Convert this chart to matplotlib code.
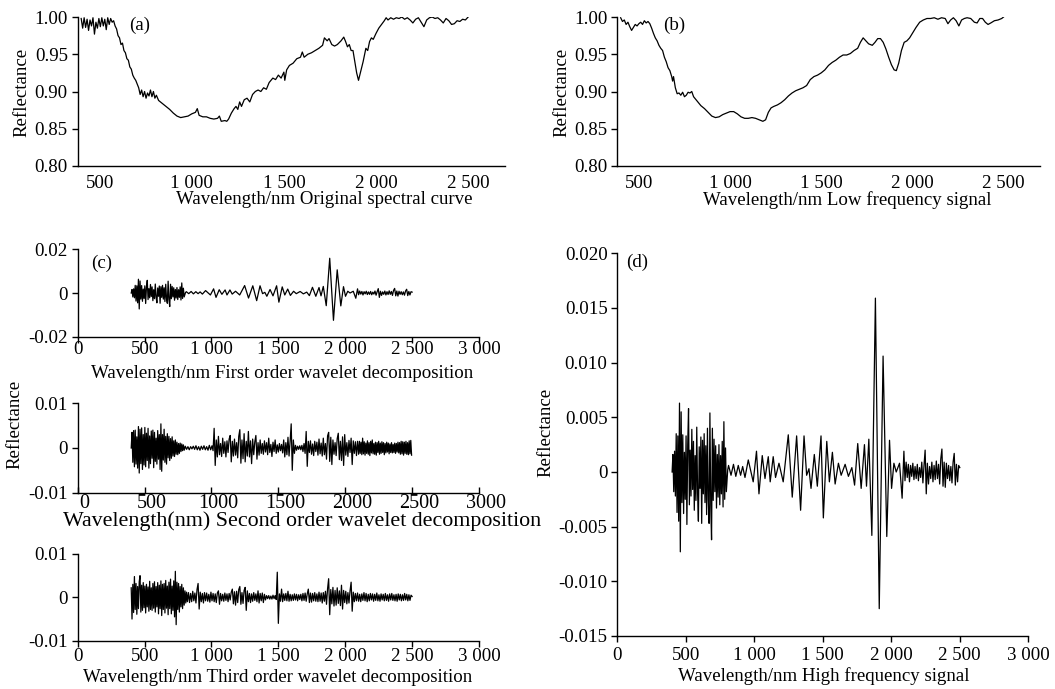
import numpy as np
import matplotlib
matplotlib.use("Agg")
import matplotlib.pyplot as plt
import matplotlib.transforms as mtransforms

plt.rcParams['font.family'] = ['Liberation Serif', 'DejaVu Serif']
plt.rcParams['font.size'] = 13.6

W, H = 1055, 689

# (a) original spectral curve: (wavelength nm, reflectance)
A_CURVE = [
    (400, 0.998), (408, 0.985), (416, 0.999), (424, 0.986), (432, 0.997), (440, 0.982),
    (448, 0.996), (456, 0.988), (464, 0.999), (472, 0.977), (480, 0.993), (488, 0.985),
    (496, 0.998), (504, 0.987), (512, 0.999), (520, 0.988), (528, 0.997), (536, 0.983),
    (544, 0.999), (552, 0.990), (560, 0.998), (568, 0.993), (576, 0.995), (584, 0.988),
    (592, 0.984), (600, 0.975), (608, 0.972), (616, 0.963), (624, 0.965), (632, 0.955),
    (640, 0.952), (648, 0.944), (656, 0.942), (664, 0.933), (672, 0.930), (680, 0.922),
    (688, 0.918), (696, 0.915), (704, 0.910), (712, 0.905), (720, 0.896), (728, 0.902),
    (736, 0.893), (744, 0.900), (752, 0.891), (760, 0.898), (768, 0.894), (776, 0.902),
    (784, 0.893), (792, 0.900), (800, 0.891), (808, 0.895), (820, 0.888), (840, 0.884),
    (860, 0.880), (880, 0.876), (900, 0.871), (920, 0.867), (940, 0.865), (960, 0.866),
    (980, 0.867), (1000, 0.870), (1020, 0.872), (1030, 0.877), (1040, 0.868), (1060, 0.866),
    (1080, 0.866), (1100, 0.864), (1120, 0.863), (1140, 0.864), (1150, 0.867), (1160, 0.860),
    (1180, 0.861), (1190, 0.860), (1200, 0.863), (1215, 0.871), (1230, 0.877), (1240, 0.880),
    (1250, 0.876), (1260, 0.886), (1270, 0.880), (1285, 0.889), (1300, 0.891), (1315, 0.886),
    (1330, 0.896), (1345, 0.900), (1360, 0.902), (1375, 0.900), (1390, 0.905), (1405, 0.903),
    (1420, 0.912), (1440, 0.918), (1455, 0.916), (1470, 0.922), (1485, 0.918), (1500, 0.926),
    (1505, 0.915), (1515, 0.929), (1530, 0.935), (1550, 0.938), (1570, 0.944), (1590, 0.946),
    (1600, 0.953), (1610, 0.946), (1630, 0.950), (1650, 0.952), (1670, 0.955), (1690, 0.958),
    (1710, 0.962), (1720, 0.972), (1735, 0.968), (1745, 0.971), (1760, 0.963), (1775, 0.961),
    (1790, 0.963), (1810, 0.968), (1825, 0.973), (1835, 0.967), (1845, 0.960), (1855, 0.963),
    (1865, 0.955), (1875, 0.955), (1885, 0.940), (1895, 0.925), (1905, 0.915), (1915, 0.925),
    (1930, 0.940), (1945, 0.958), (1955, 0.955), (1965, 0.967), (1975, 0.972), (1985, 0.970),
    (2000, 0.978), (2015, 0.985), (2030, 0.990), (2045, 0.995), (2055, 0.999), (2065, 0.996),
    (2080, 0.999), (2095, 0.997), (2110, 0.999), (2125, 0.998), (2140, 1.000), (2155, 0.997),
    (2170, 0.999), (2185, 0.996), (2200, 0.992), (2215, 0.997), (2230, 0.999), (2245, 0.993),
    (2260, 0.987), (2275, 0.996), (2290, 0.999), (2305, 1.000), (2320, 0.998), (2335, 0.999),
    (2350, 0.996), (2365, 0.992), (2380, 0.998), (2395, 0.995), (2410, 0.990), (2425, 0.991),
    (2440, 0.995), (2455, 0.994), (2470, 0.997), (2485, 0.996), (2500, 1.000),
]

# (b) low frequency signal
B_CURVE = [
    (400, 0.999), (410, 0.994), (420, 0.996), (430, 0.990), (440, 0.993), (450, 0.987),
    (460, 0.982), (470, 0.986), (480, 0.990), (490, 0.988), (500, 0.991), (510, 0.993),
    (520, 0.990), (530, 0.995), (540, 0.992), (550, 0.994), (560, 0.991), (570, 0.985),
    (580, 0.978), (590, 0.972), (600, 0.968), (610, 0.962), (620, 0.958), (630, 0.955),
    (640, 0.946), (650, 0.940), (660, 0.932), (670, 0.928), (680, 0.920), (685, 0.914),
    (690, 0.920), (700, 0.905), (710, 0.897), (720, 0.898), (730, 0.895), (740, 0.899),
    (750, 0.893), (760, 0.895), (770, 0.899), (780, 0.898), (790, 0.900), (800, 0.893),
    (820, 0.887), (840, 0.881), (860, 0.877), (880, 0.872), (900, 0.867), (920, 0.865),
    (940, 0.866), (960, 0.869), (980, 0.871), (1000, 0.873), (1020, 0.873), (1040, 0.870),
    (1060, 0.866), (1080, 0.864), (1100, 0.864), (1120, 0.865), (1140, 0.864), (1160, 0.862),
    (1180, 0.860), (1195, 0.862), (1210, 0.872), (1225, 0.878), (1240, 0.880), (1260, 0.882),
    (1280, 0.885), (1300, 0.889), (1320, 0.894), (1340, 0.898), (1360, 0.901), (1380, 0.903),
    (1400, 0.905), (1420, 0.908), (1440, 0.916), (1460, 0.920), (1480, 0.922), (1500, 0.925),
    (1520, 0.929), (1540, 0.935), (1560, 0.939), (1580, 0.942), (1600, 0.946), (1620, 0.949),
    (1640, 0.949), (1660, 0.951), (1680, 0.955), (1700, 0.958), (1715, 0.966), (1730, 0.972),
    (1745, 0.968), (1760, 0.964), (1780, 0.962), (1795, 0.966), (1810, 0.971), (1825, 0.971),
    (1840, 0.966), (1855, 0.957), (1870, 0.946), (1885, 0.936), (1900, 0.929), (1912, 0.928),
    (1925, 0.938), (1940, 0.955), (1955, 0.966), (1970, 0.968), (1985, 0.972), (2000, 0.978),
    (2020, 0.986), (2040, 0.993), (2060, 0.996), (2080, 0.998), (2100, 0.998), (2120, 0.999),
    (2140, 0.997), (2160, 0.999), (2180, 0.998), (2195, 0.991), (2210, 0.996), (2225, 0.999),
    (2240, 0.995), (2255, 0.988), (2270, 0.996), (2285, 0.998), (2300, 0.999), (2320, 0.998),
    (2340, 0.993), (2355, 0.992), (2370, 0.998), (2385, 0.998), (2400, 0.993), (2415, 0.990),
    (2430, 0.992), (2450, 0.995), (2470, 0.996), (2490, 0.998), (2500, 1.000),
]

# (d) high frequency signal, also the first order detail of (c); unit 1e-3
D_LEFT_RANGE = (400, 796)
D_LEFT = [0.0, 1.6, -1.8, 1.9, -2.2, 3.5, -3.7, 3.3, -4.5, 6.3, -7.3, 5.5, -2.8, 3.4, -3.8,
          1.8, -2.5, 3.3, -4.8, 2.5, 5.8, -3.0, 2.0, -2.2, 3.9, -1.6, 2.8, -3.5, 1.5, -2.6,
          4.1, -1.9, -4.5, 2.3, -1.5, 3.2, -4.7, 2.9, -2.0, 3.5, -2.8, 2.4, -3.9, 4.0, -2.5,
          -4.7, 5.4, -3.0, -6.2, 4.0, -2.6, 3.0, -1.8, 2.4, -3.3, 1.6, -2.3, 2.5, -3.0, 1.5,
          -2.0, 2.8, -3.2, 4.6, -2.5, 2.2, -1.8]
D_MID = [
    (806, 0.2), (812, 0.6), (830, -0.3), (848, 0.7), (865, -0.4), (883, 0.6), (900, -0.3),
    (915, 0.5), (932, -0.5), (956, 1.1), (992, -0.9), (1016, 1.9), (1034, -2.0), (1058, 1.5),
    (1078, -0.6), (1102, 1.4), (1116, -0.9), (1138, 1.4), (1155, -0.5), (1180, 0.8),
    (1211, -0.9), (1248, 3.4), (1277, -2.3), (1309, 3.3), (1338, -3.5), (1363, 3.3),
    (1382, -0.3), (1399, 0.3), (1414, -1.5), (1438, 1.6), (1460, -1.3), (1487, 3.3),
    (1504, -4.2), (1529, 2.8), (1548, -0.9), (1570, 1.8), (1590, -1.1), (1614, 0.8),
    (1634, -0.3), (1663, 0.7), (1687, -0.4), (1712, 0.4), (1732, -1.2), (1755, 2.6),
    (1780, -1.5), (1804, 2.5), (1819, -1.3), (1836, 3.0), (1858, -5.8), (1884, 15.9),
    (1912, -12.5), (1940, 10.6), (1967, -5.9), (1987, 2.9), (2002, -1.5), (2019, 0.8),
    (2036, 0.0), (2060, 0.8), (2079, -2.4), (2092, 1.9),
]
D_RIGHT_RANGE = (2100, 2500)
D_RIGHT = [-0.8, 0.9, -0.5, 0.7, -0.9, 0.6, -0.4, 0.8, -0.7, 0.5, -0.6, 0.7, -0.8, 0.4,
           -0.5, 0.9, -1.0, 0.6, 2.0, -2.0, 0.8, -1.1, 0.5, -0.6, 0.9, -0.9, 0.6, -0.7,
           1.0, -0.6, 0.7, -1.1, 1.2, 2.1, -1.3, 0.9, -1.4, 0.8, -0.6, 0.6, -0.8, 0.5,
           -1.0, 0.9, 1.7, -1.2, 0.7, -0.9, 0.6, 0.4]

# (c) second order wavelet decomposition; unit 1e-3
C2_LEFT_RANGE = (400, 796)
C2_LEFT = [0.0, 3.5, -3.2, 3.9, -4.2, 4.0, -3.6, 2.5, -4.5, 4.8, -5.6, 4.2, -3.5, 4.5,
           -4.8, 3.0, -3.8, 4.6, -4.2, 3.3, -2.8, 4.4, -4.5, 2.7, -3.5, 3.8, -2.3, 4.0,
           -4.4, 3.5, -3.0, 2.2, -3.6, 3.9, -2.5, 3.0, -4.8, 5.4, -5.2, 3.0, -2.7, 4.2,
           -3.2, 2.6, -3.6, 3.2, -2.2, 2.6, -2.8, 2.1, -2.3, 2.5, -1.8, 1.6, -1.9, 1.8,
           -1.4, 1.3, -1.5, 1.0, -1.2, 1.1, -0.8, 0.9, -0.6, 0.7, -0.5]
C2_QUIET_RANGE = (804, 994)
C2_QUIET = [0.4, -0.3, 0.3, -0.4, 0.3, -0.2, 0.4, -0.3, 0.5, -0.4, 0.3, -0.5, 0.4, -0.3,
            0.5, -0.4, 0.3, -0.5, 0.6, -0.4]
C2_MID_RANGE = (1004, 2092)
C2_MID = [0.5, -0.6, 4.4, -3.9, 1.8, -2.0, 2.6, -1.5, 1.0, -1.9, 2.2, -1.2, 1.4, -2.0,
          1.6, -1.0, 2.0, 2.8, -3.1, 1.5, -1.8, 2.0, -1.6, 1.2, -2.2, 2.6, 4.1, -3.4,
          1.8, -2.4, 3.2, -3.1, 1.5, -1.8, 3.7, -2.0, 1.6, -3.5, 2.0, -1.5, 1.4, 2.8,
          -2.5, 1.2, -1.6, 1.8, -1.2, 1.0, -1.4, 1.6, -0.9, 1.2, -1.5, 2.2, -1.0, 0.8,
          -1.9, 1.3, -0.8, 1.8, -1.2, 0.7, -0.9, 1.0, -0.6, 0.8, -1.1, 1.8, -2.0, 1.2,
          -1.5, 2.4, -1.8, 1.5, 5.4, -5.0, 1.8, -1.2, 0.6, -0.5, 0.4, -0.3, 0.5, -0.4,
          0.6, -0.8, 1.0, -1.2, 3.7, -4.1, 1.5, -1.0, 1.6, -1.4, 0.9, -1.7, 1.5, -0.8,
          1.3, -1.6, 2.0, -1.3, 1.1, -1.8, 2.2, -1.5, 1.0, -2.5, 2.7, 3.5, -3.0, 2.4,
          -3.7, 1.8, -1.4, 1.2, -1.7, 2.1, 3.3, -2.6, 1.5, -2.8, 2.5, -3.9, 3.0, -1.6,
          1.2, -1.9, 1.7, -1.0, 2.2, -3.7, 1.6, -1.2, 1.4, -1.7, 1.5]
C2_RIGHT_RANGE = (2100, 2496)
C2_RIGHT = [-1.4, 1.5, -1.2, 1.3, -1.5, 2.2, -1.3, 1.4, -1.6, 1.1, -1.2, 1.6, -1.4, 1.2,
            -1.7, 1.5, -1.1, 1.8, -1.3, 1.0, -1.4, 1.3, -1.6, 1.2, -1.0, 1.5, -1.4, 1.1,
            -1.2, 1.4, -1.0, 1.2, -1.5, 1.0, -1.1, 1.3, -0.9, 1.1, -1.3, 0.9, -1.0, 1.2,
            -1.1, 0.8, -1.0, 1.1, -1.2, 1.0, -0.9, 1.3, -1.1, 1.2, -1.4, 1.5, -1.3, 1.4,
            -1.6, 1.3, -1.2, 1.5, -1.4, 1.2, -1.5, 1.6, -1.3, 1.7, -1.6]

# (c) third order wavelet decomposition; unit 1e-3
C3_LEFT_RANGE = (400, 820)
C3_LEFT = [2.2, -5.0, 3.0, -3.5, 4.8, -2.8, 3.2, -3.9, 2.5, -2.6, 3.6, 5.0, -3.4, 2.8,
           -3.0, 3.4, -2.4, 2.6, -3.6, 3.0, -2.2, 2.4, -3.2, 3.7, -2.8, 2.2, -3.0, 3.2,
           -2.5, 3.6, -3.4, 2.5, -2.2, 3.4, -3.8, 2.8, -2.6, 3.8, -4.2, 3.0, -2.8, 3.2,
           -3.6, 3.9, -2.5, 2.6, -4.0, 3.5, -2.6, 4.2, -3.8, 2.6, -3.0, 3.8, -4.5, 6.0,
           -6.3, 3.5, -2.8, 3.2, -3.4, 2.5, -2.2, 3.0, -2.6, 2.2, -1.8, 1.5, -1.3, 1.2,
           -1.0]
C3_REST_RANGE = (828, 2500)
C3_REST = [1.1, -1.2, 0.9, -1.0, 1.4, -0.8, 1.0, -1.3, 1.8, 3.2, -2.7, 1.2, -1.0, 0.9,
           -1.3, 1.1, -0.8, 1.0, -0.9, 0.7, -1.1, 1.2, -0.8, 0.9, -1.0, 0.8, -1.2, 1.0,
           1.5, -1.6, 0.9, -0.8, 0.7, -0.9, 1.0, -0.7, 0.8, -1.0, 0.9, -0.6, 1.2, 1.9,
           -1.5, 1.3, -1.8, 1.4, -1.2, 1.8, 2.5, -1.6, 1.1, -1.4, 1.6, 2.3, -3.0, 1.5,
           -1.0, 0.9, -1.2, 0.8, -0.9, 1.1, -0.7, 0.8, -1.0, 1.5, -1.3, 0.9, -0.8, 1.0,
           -1.2, 0.7, -0.6, 0.4, -0.3, 0.4, -0.4, 0.3, -0.4, 0.5, -0.3, 0.4, -0.5, 5.8,
           -6.0, 0.8, -0.9, 1.9, -1.0, 0.8, -0.7, 0.9, -0.8, 1.4, -0.9, 0.7, -0.8, 0.6,
           -0.7, 0.8, -0.6, 0.7, -0.8, 0.6, -0.5, 0.7, -0.8, 0.9, -0.7, 1.0, -0.9, 0.8,
           1.9, -1.2, 1.0, -1.1, 0.9, -0.8, 1.1, -0.9, 0.8, -1.0, 1.2, -0.9, 1.0, -1.3,
           1.1, -0.9, 1.4, -1.6, 2.0, 4.3, -4.0, 1.8, -1.5, 2.3, -2.0, 1.6, -1.8, 2.2,
           -1.4, 1.5, -1.9, 2.8, -2.7, 1.6, -1.2, 1.4, -1.5, 1.1, -1.3, 1.5, 3.5, -3.2,
           1.2, -1.0, 0.9, -0.8, 1.0, -0.9, 0.7, -1.0, 0.8, -0.7, 1.1, -0.8, 0.9, -1.0,
           0.7, -0.8, 0.9, -0.6, 0.8, -0.9, 0.7, -0.7, 1.0, -0.8, 0.6, -0.9, 0.8, -0.6,
           0.7, -0.8, 0.9, -0.7, 0.6, -0.9, 0.8, -0.6, 0.9, -0.7, 0.6, -0.8, 0.7, -0.9,
           0.8, -0.6, 0.7, -0.8, 0.6, -0.7, 0.9, -0.6, 0.7, -0.8, 0.6, -0.7, 0.5, 0.2]

TOP_XTICKS = [500, 1000, 1500, 2000, 2500]
TOP_XLABELS = ['500', '1 000', '1 500', '2 000', '2 500']
TOP_YTICKS = [0.80, 0.85, 0.90, 0.95, 1.00]
TOP_YLABELS = ['0.80', '0.85', '0.90', '0.95', '1.00']
C_XTICKS = [0, 500, 1000, 1500, 2000, 2500, 3000]
C_XLABELS = ['0', '500', '1 000', '1 500', '2 000', '2 500', '3 000']
C2_XLABELS = ['0', '500', '1000', '1500', '2000', '2500', '3000']
D_YTICKS = [-0.015, -0.010, -0.005, 0, 0.005, 0.010, 0.015, 0.020]
D_YLABELS = ['-0.015', '-0.010', '-0.005', '0', '0.005', '0.010', '0.015', '0.020']


def uniform(rng, vals):
    """Evenly sampled segment between rng[0] and rng[1]."""
    return np.linspace(rng[0], rng[1], len(vals)), np.asarray(vals, float)


def pairs(lst):
    arr = np.asarray(lst, float)
    return arr[:, 0], arr[:, 1]


def join(*segs):
    return (np.concatenate([s[0] for s in segs]),
            np.concatenate([s[1] for s in segs]) * 1e-3)


def box(l, t, r, b):
    """Axes rectangle from pixel edges."""
    return [l / W, 1 - b / H, (r - l) / W, (b - t) / H]


def ftext(x, y, s, **kw):
    fig.text(x / W, 1 - y / H, s, ha='center', va='center', **kw)


def style(ax, xlen=4, xdir='out', xpad=1.0, ylen=4.5, ypad=2.5):
    for side in ('top', 'right'):
        ax.spines[side].set_visible(False)
    for side in ('left', 'bottom'):
        ax.spines[side].set_linewidth(1.0)
    ax.tick_params(axis='x', length=xlen, direction=xdir, pad=xpad, width=1.0)
    ax.tick_params(axis='y', length=ylen, direction='out', pad=ypad, width=1.0)


wa, ra = pairs(A_CURVE)
wb, rb = pairs(B_CURVE)
wd, hd = join(uniform(D_LEFT_RANGE, D_LEFT), pairs(D_MID), uniform(D_RIGHT_RANGE, D_RIGHT))
w2, h2 = join(uniform(C2_LEFT_RANGE, C2_LEFT), uniform(C2_QUIET_RANGE, C2_QUIET),
              uniform(C2_MID_RANGE, C2_MID), uniform(C2_RIGHT_RANGE, C2_RIGHT))
w3, h3 = join(uniform(C3_LEFT_RANGE, C3_LEFT), uniform(C3_REST_RANGE, C3_REST))

fig = plt.figure(figsize=(W / 100, H / 100), dpi=100)
LW = 0.9

# (a) and (b)
for rect, w, r, letter, lx, xl, xlx in [
        (box(77.5, 17, 505, 166), wa, ra, '(a)', 140, 'Wavelength/nm Original spectral curve', 324),
        (box(617, 17, 1040, 166), wb, rb, '(b)', 674, 'Wavelength/nm Low frequency signal', 847)]:
    ax = fig.add_axes(rect)
    ax.plot(w, r, color='black', lw=LW)
    ax.set_xlim(380, 2700)
    ax.set_ylim(0.80, 1.00)
    ax.set_xticks(TOP_XTICKS, TOP_XLABELS)
    ax.set_yticks(TOP_YTICKS, TOP_YLABELS)
    style(ax, xlen=0, xpad=6.5)
    ftext(lx, 25, letter)
    ftext(xlx, 200, xl)
ftext(22, 92, 'Reflectance', rotation=90)
ftext(562, 92, 'Reflectance', rotation=90)

# (c) first order
ax = fig.add_axes(box(77.7, 249.3, 479, 336.7))
ax.plot(wd, hd, color='black', lw=LW)
ax.set_xlim(0, 3000)
ax.set_ylim(-0.02, 0.02)
ax.set_xticks(C_XTICKS, C_XLABELS)
ax.set_yticks([-0.02, 0, 0.02], ['-0.02', '0', '0.02'])
style(ax, xpad=-1.0)
ftext(102, 263, '(c)')
ftext(282, 374, 'Wavelength/nm First order wavelet decomposition')

# (c) second order
ax = fig.add_axes(box(77.7, 403.3, 479, 492.7))
ax.plot(w2, h2, color='black', lw=LW)
ax.set_xlim(0, 3000)
ax.set_ylim(-0.01, 0.01)
ax.set_xticks(C_XTICKS, C2_XLABELS)
ax.set_yticks([-0.01, 0, 0.01], ['-0.01', '0', '0.01'])
style(ax, xlen=4, xdir='in', xpad=1.0)
ax.tick_params(axis='x', labelsize=14.5)
shift = mtransforms.ScaledTranslation(7 / 100, 0, fig.dpi_scale_trans)
for lab in ax.get_xticklabels():
    lab.set_transform(lab.get_transform() + shift)
ftext(15, 424, 'Reflectance', rotation=90)
ftext(302, 521, 'Wavelength(nm) Second order wavelet decomposition', fontsize=15.8)

# (c) third order
ax = fig.add_axes(box(77.7, 554, 479, 640.7))
ax.plot(w3, h3, color='black', lw=LW)
ax.set_xlim(0, 3000)
ax.set_ylim(-0.01, 0.01)
ax.set_xticks(C_XTICKS, C_XLABELS)
ax.set_yticks([-0.01, 0, 0.01], ['-0.01', '0', '0.01'])
style(ax)
ftext(278, 677, 'Wavelength/nm Third order wavelet decomposition')

# (d) high frequency signal
ax = fig.add_axes(box(617.3, 253.3, 1028.3, 636))
ax.plot(wd, hd, color='black', lw=LW)
ax.set_xlim(0, 3000)
ax.set_ylim(-0.015, 0.020)
ax.set_xticks(C_XTICKS, C_XLABELS)
ax.set_yticks(D_YTICKS, D_YLABELS)
style(ax, xpad=4.0)
ftext(637, 262, '(d)')
ftext(546, 432, 'Reflectance', rotation=90)
ftext(824, 676, 'Wavelength/nm High frequency signal')

fig.savefig('out.png', dpi=100, facecolor='white')
